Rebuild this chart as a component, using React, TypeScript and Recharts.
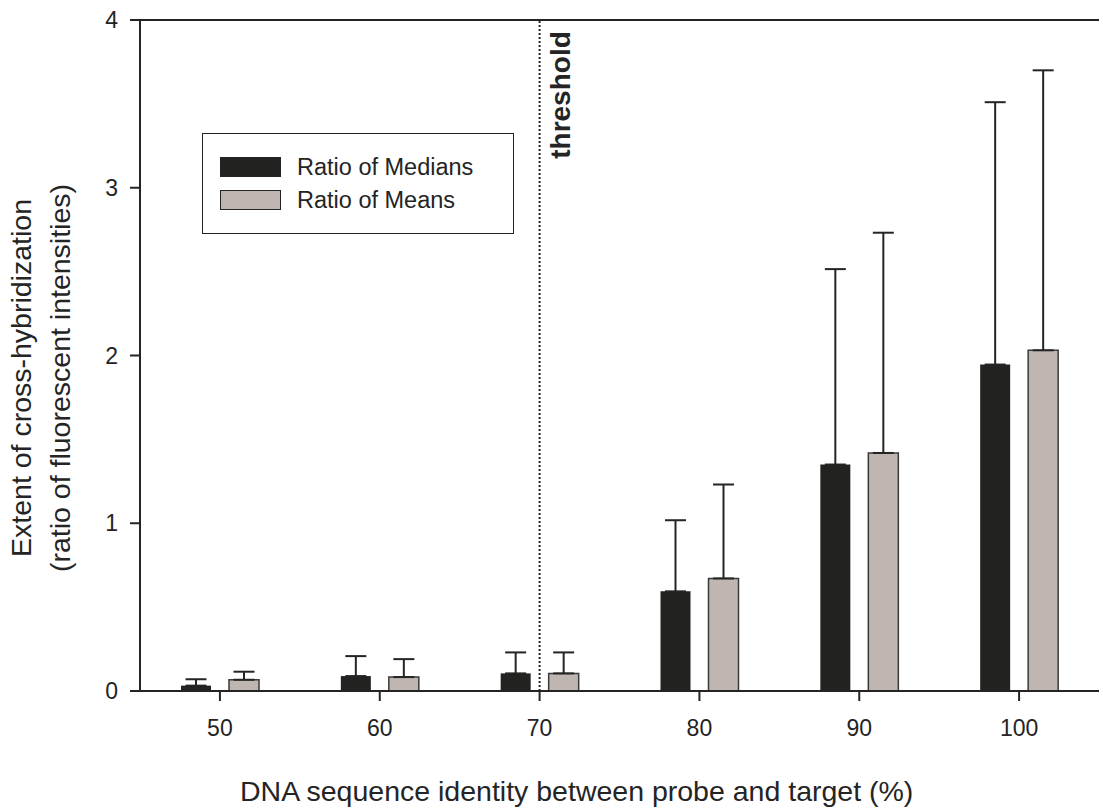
import { BarChart, Bar, XAxis, YAxis, ErrorBar, ReferenceLine, Legend } from 'recharts';

const identity = ['50', '60', '70', '80', '90', '100'];
const medians = [0.032, 0.089, 0.105, 0.594, 1.35, 1.946];
const medianTops = [0.07, 0.208, 0.23, 1.018, 2.515, 3.51];
const means = [0.067, 0.083, 0.105, 0.671, 1.419, 2.031];
const meanTops = [0.115, 0.19, 0.23, 1.231, 2.732, 3.7];
const yTicks = [0, 1, 2, 3, 4];
const seriesOrder = ['Ratio of Medians', 'Ratio of Means'];

const data = identity.map((id, i) => ({
  identity: id,
  medians: medians[i],
  medianErr: [0, +(medianTops[i] - medians[i]).toFixed(3)],
  means: means[i],
  meanErr: [0, +(meanTops[i] - means[i]).toFixed(3)],
}));

const ink = '#242424';
const font = '"Liberation Sans", Arial, sans-serif';

const LegendBox = ({ payload }: any) => {
  const items = [...(payload || [])].sort(
    (a: any, b: any) => seriesOrder.indexOf(a.value) - seriesOrder.indexOf(b.value)
  );
  return (
    <div
      style={{
        width: 312,
        height: 101,
        boxSizing: 'border-box',
        border: `1.5px solid ${ink}`,
        background: '#fff',
        paddingTop: 23,
        paddingLeft: 17,
        fontFamily: font,
      }}
    >
      {items.map((p: any, i: number) => (
        <div key={i} style={{ display: 'flex', alignItems: 'center', height: 20, marginBottom: 13 }}>
          <div
            style={{
              width: 61,
              height: 20,
              boxSizing: 'border-box',
              background: p.color,
              border: `1.5px solid ${ink}`,
            }}
          />
          <span style={{ marginLeft: 16, fontSize: 23.5, color: ink, lineHeight: '20px' }}>{p.value}</span>
        </div>
      ))}
    </div>
  );
};

const ThresholdLabel = ({ viewBox }: any) => {
  const x = viewBox.x + 30;
  const y = 95;
  return (
    <text
      x={x}
      y={y}
      transform={`rotate(-90, ${x}, ${y})`}
      textAnchor="middle"
      fontFamily={font}
      fontWeight="bold"
      fontSize={28}
      fill={ink}
    >
      threshold
    </text>
  );
};

const YLabel = () => {
  const cy = 378;
  return (
    <g fontFamily={font} fontSize={28.5} fill={ink} textAnchor="middle">
      <text x={31} y={cy} transform={`rotate(-90, 31, ${cy})`}>
        Extent of cross-hybridization
      </text>
      <text x={70} y={cy} transform={`rotate(-90, 70, ${cy})`}>
        (ratio of fluorescent intensities)
      </text>
    </g>
  );
};

const XLabel = ({ viewBox }: any) => (
  <text x={240} y={viewBox.y + 110} fontFamily={font} fontSize={28.5} fill={ink} textAnchor="start">
    DNA sequence identity between probe and target (%)
  </text>
);

export default function App() {
  return (
    <div style={{ position: 'absolute', left: 0, top: 0, background: '#fff' }}>
      <BarChart
        width={1103}
        height={809}
        data={data}
        margin={{ top: 20, right: 4, bottom: 58, left: 0 }}
        barSize={30}
        barGap={18}
      >
        <XAxis
          dataKey="identity"
          height={60}
          tickSize={10}
          tickMargin={19}
          tick={{ fill: ink, fontSize: 23, fontFamily: font }}
          tickLine={{ stroke: ink, strokeWidth: 2 }}
          axisLine={{ stroke: ink, strokeWidth: 2 }}
          label={<XLabel />}
        />
        <YAxis
          width={140}
          domain={[0, 4]}
          ticks={yTicks}
          tickSize={10}
          tickMargin={12}
          tick={{ fill: ink, fontSize: 23, fontFamily: font }}
          tickLine={{ stroke: ink, strokeWidth: 2 }}
          axisLine={{ stroke: ink, strokeWidth: 2 }}
          label={<YLabel />}
        />
        <YAxis
          yAxisId="frame"
          orientation="right"
          width={0}
          domain={[0, 4]}
          tick={false}
          tickLine={false}
          axisLine={{ stroke: ink, strokeWidth: 2 }}
        />
        <ReferenceLine y={4} stroke={ink} strokeWidth={2} />
        <ReferenceLine
          x="70"
          stroke={ink}
          strokeWidth={2}
          strokeDasharray="2 2"
          label={<ThresholdLabel />}
        />
        <Legend
          layout="vertical"
          align="center"
          verticalAlign="middle"
          wrapperStyle={{ left: 202, top: 133, width: 312, height: 101 }}
          content={<LegendBox />}
        />
        <Bar dataKey="medians" name="Ratio of Medians" fill="#222220" isAnimationActive={false}>
          <ErrorBar dataKey="medianErr" direction="y" width={10.5} stroke={ink} strokeWidth={2} />
        </Bar>
        <Bar
          dataKey="means"
          name="Ratio of Means"
          fill="#bfb6b1"
          stroke="#3a3a3a"
          strokeWidth={1.5}
          isAnimationActive={false}
        >
          <ErrorBar dataKey="meanErr" direction="y" width={10.5} stroke={ink} strokeWidth={2} />
        </Bar>
      </BarChart>
    </div>
  );
}
